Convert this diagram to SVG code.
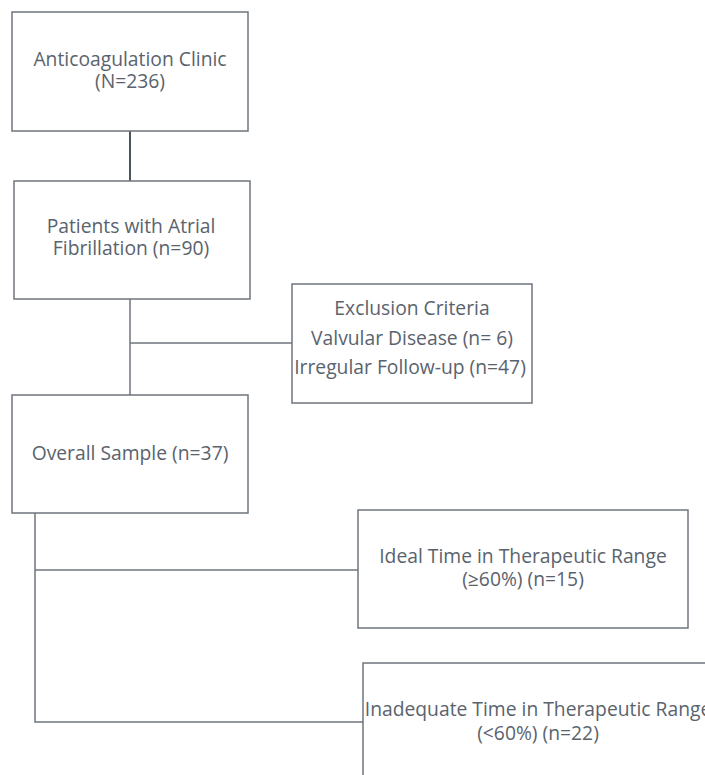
<svg xmlns="http://www.w3.org/2000/svg" width="705" height="775" viewBox="0 0 705 775">
<style>
.box{fill:#fff;stroke:#6e757d;stroke-width:1.5}
.conn{fill:none;stroke:#6e757d;stroke-width:1.5}
text{font-family:"Open Sans","Liberation Sans",sans-serif;font-size:19.3px;fill:#5a636d;text-anchor:middle}
</style>
<rect width="705" height="775" fill="#fff"/>
<g id="connectors">
<line class="conn" x1="130" y1="131" x2="130" y2="181" style="stroke:#4a525a;stroke-width:2"/>
<polyline class="conn" points="130,299 130,395"/>
<line class="conn" x1="130" y1="343" x2="292" y2="343"/>
<polyline class="conn" points="35,513 35,722 363,722"/>
<line class="conn" x1="35" y1="570" x2="358" y2="570"/>
</g>
<g id="node-clinic">
<rect class="box" x="12" y="12" width="236" height="119"/>
<text x="130" y="66">Anticoagulation Clinic</text>
<text x="130" y="88">(N=236)</text>
</g>
<g id="node-af">
<rect class="box" x="14" y="181" width="236" height="118"/>
<text x="131" y="233">Patients with Atrial</text>
<text x="131" y="255">Fibrillation (n=90)</text>
</g>
<g id="node-exclusion">
<rect class="box" x="292" y="284" width="240" height="119"/>
<text x="412" y="315">Exclusion Criteria</text>
<text x="412" y="345">Valvular Disease (n= 6)</text>
<text x="410" y="374">Irregular Follow-up (n=47)</text>
</g>
<g id="node-overall">
<rect class="box" x="12" y="395" width="236" height="118"/>
<text x="130" y="460">Overall Sample (n=37)</text>
</g>
<g id="node-ideal">
<rect class="box" x="358" y="510" width="330" height="118"/>
<text x="523" y="563">Ideal Time in Therapeutic Range</text>
<text x="523" y="586">(≥60%) (n=15)</text>
</g>
<g id="node-inadequate">
<rect class="box" x="363" y="663" width="350" height="120"/>
<text x="538" y="716">Inadequate Time in Therapeutic Range</text>
<text x="538" y="740">(&lt;60%) (n=22)</text>
</g>
</svg>
